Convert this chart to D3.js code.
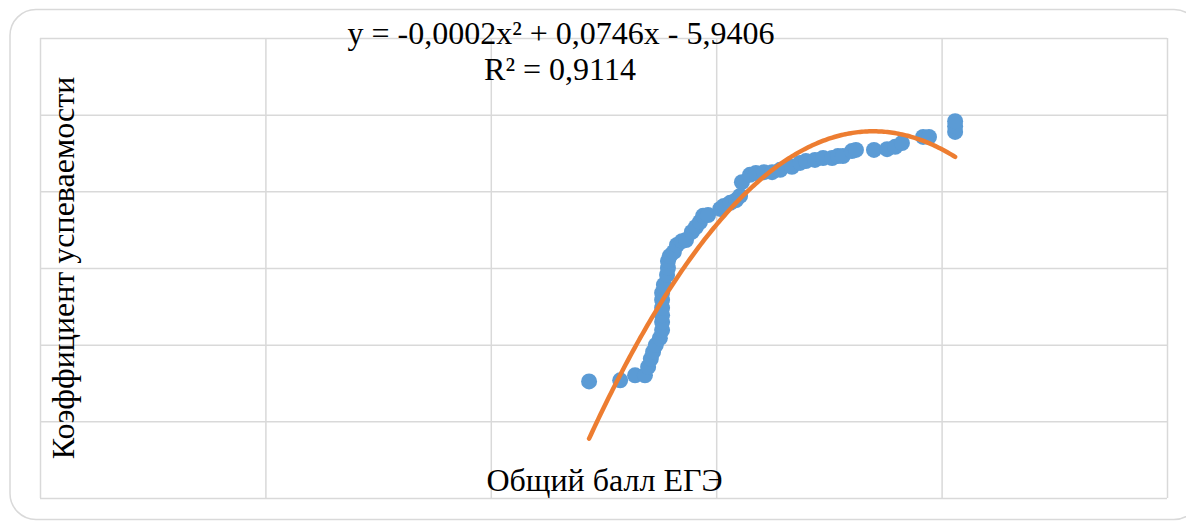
<!DOCTYPE html>
<html><head><meta charset="utf-8">
<script src="https://cdn.jsdelivr.net/npm/d3@7"></script>
<style>html,body{margin:0;padding:0;background:#fff;}svg{display:block;}
text{font-family:"Liberation Serif","Times New Roman",serif;}</style>
</head><body>
<svg id="chart" width="1186" height="522"></svg>
<script>
// ---- data ----
const scoreX = [121.8,128.7,132.0,134.2,134.9,135.5,136.0,136.6,137.5,138.0,138.0,138.0,138.0,138.0,138.0,138.4,139.1,139.3,139.3,139.7,140.6,141.3,142.4,143.3,144.6,145.5,146.4,147.1,148.2,150.9,151.7,153.1,154.4,155.3,155.7,157.5,158.8,160.6,162.4,164.2,166.8,168.6,169.9,171.9,173.7,175.7,177.0,178.1,180.1,181.0,185.0,187.9,189.7,191.2,195.9,197.2,203.0,203.0,203.0];
const rateY  = [0.304,0.307,0.320,0.320,0.342,0.363,0.381,0.399,0.417,0.438,0.459,0.477,0.496,0.517,0.535,0.556,0.582,0.600,0.618,0.631,0.642,0.660,0.670,0.673,0.694,0.707,0.720,0.736,0.738,0.754,0.762,0.770,0.777,0.788,0.824,0.843,0.848,0.850,0.850,0.856,0.864,0.874,0.879,0.882,0.887,0.887,0.892,0.892,0.905,0.908,0.908,0.910,0.916,0.926,0.942,0.942,0.955,0.970,0.983];
const trendCoef = [-0.000202, 0.07466, -5.942]; // a, b, c  (y = a x^2 + b x + c)
const xTicks = [0,50,100,150,200,250];
const yTicks = [0,0.2,0.4,0.6,0.8,1.0,1.2];
const eqLine1 = "y = -0,0002x² + 0,0746x - 5,9406";
const eqLine2 = "R² = 0,9114";
const xTitle = "Общий балл ЕГЭ";
const yTitle = "Коэффициент успеваемости";

const svg = d3.select("#chart");

// outer frame
svg.append("rect").attr("x",10).attr("y",9.5).attr("width",1190).attr("height",510)
  .attr("rx",26).attr("ry",26).attr("fill","#fff").attr("stroke","#d9d9d9").attr("stroke-width",1.5);

const L=40,R=1167,T=38,B=498;
const x = d3.scaleLinear().domain([0,250]).range([L,R]);
const y = d3.scaleLinear().domain([0,1.2]).range([B,T]);

// gridlines
const gx = svg.append("g").attr("transform",`translate(0,${B})`)
  .call(d3.axisBottom(x).tickValues(xTicks).tickSize(-(B-T)).tickFormat(""));
const gy = svg.append("g").attr("transform",`translate(${L},0)`)
  .call(d3.axisLeft(y).tickValues(yTicks).tickSize(-(R-L)).tickFormat(""));
[gx,gy].forEach(g=>{
  g.select(".domain").remove();
  g.selectAll(".tick line").attr("stroke","#d9d9d9").attr("stroke-width",1.5);
});

// points
const pts = scoreX.map((v,i)=>({x:v,y:rateY[i]}));
svg.append("g").selectAll("circle").data(pts).join("circle")
  .attr("cx",d=>x(d.x)).attr("cy",d=>y(d.y)).attr("r",8).attr("fill","#5b9bd5");

// trendline over data range
const xMin=d3.min(scoreX), xMax=d3.max(scoreX);
const tr = d3.range(0,201).map(i=>{const xv=xMin+(xMax-xMin)*i/200;
  return {x:xv,y:trendCoef[0]*xv*xv+trendCoef[1]*xv+trendCoef[2]};});
svg.append("path").datum(tr).attr("fill","none").attr("stroke","#ed7d31")
  .attr("stroke-width",4.5).attr("stroke-linecap","round")
  .attr("d",d3.line().x(d=>x(d.x)).y(d=>y(d.y)));

// equation
svg.append("text").attr("x",561).attr("y",44).attr("text-anchor","middle")
  .attr("font-size",32).attr("fill","#000").text(eqLine1);
svg.append("text").attr("x",560).attr("y",80).attr("text-anchor","middle")
  .attr("font-size",32).attr("fill","#000").text(eqLine2);

// axis titles
svg.append("text").attr("x",604.5).attr("y",491).attr("text-anchor","middle")
  .attr("font-size",32).attr("fill","#000").text(xTitle);
svg.append("text").attr("transform","translate(74,268) rotate(-90)").attr("text-anchor","middle")
  .attr("font-size",32).attr("fill","#000").text(yTitle);
</script>
</body></html>
